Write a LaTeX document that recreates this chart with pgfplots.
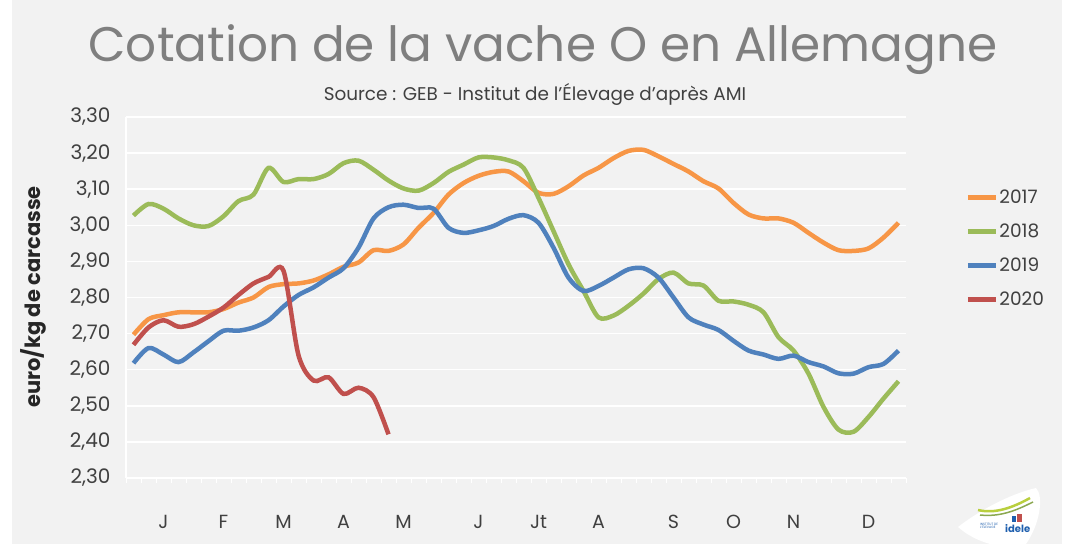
\documentclass[border=0pt]{standalone}
\usepackage{pgfplots}
\pgfplotsset{compat=1.18}
\usepackage{fontspec}
\setmainfont{Poppins}
\definecolor{c17}{HTML}{F79646}
\definecolor{c18}{HTML}{9BBB59}
\definecolor{c19}{HTML}{4F81BD}
\definecolor{c20}{HTML}{C0504D}
\definecolor{bg}{HTML}{F2F2F2}
\definecolor{txt}{HTML}{404040}
\definecolor{ttl}{HTML}{7F7F7F}
\definecolor{ideleblue}{HTML}{1F5FAE}

\begin{document}
\begin{tikzpicture}[x=1pt,y=1pt]
\useasboundingbox (0,0) rectangle (1072,544);
\fill[white] (0,0) rectangle (1072,544);
\fill[bg] (12,0) rectangle (1062,544);

% titles
\node[anchor=base, text=ttl, inner sep=0pt] at (543,482)
  {\fontsize{48.5}{52}\selectfont Cotation de la vache O en Allemagne};
\node[anchor=base, text=txt, inner sep=0pt] at (535,443)
  {\fontsize{18.4}{20}\selectfont Source : GEB - Institut de l'Élevage d'après AMI};
\node[rotate=90, text=black!85, inner sep=0pt] at (33,247)
  {\fontsize{21}{23}\selectfont\bfseries euro/kg de carcasse};

\begin{axis}[
    at={(126pt,66pt)}, anchor=south west,
    scale only axis, width=780pt, height=361pt,
    xmin=0.5, xmax=52.5, ymin=2.3, ymax=3.3,
    axis background/.style={fill=bg},
    separate axis lines,
    axis x line*=bottom, axis y line*=left,
    x axis line style={-, draw=white, line width=1.2pt},
    y axis line style={-, draw=white, line width=1.2pt},
    ymajorgrids, grid style={white, line width=1.5pt},
    ytick={2.3,2.4,2.5,2.6,2.7,2.8,2.9,3.0,3.1,3.2,3.3},
    xtick={3,7,11,15,19,24,28,32,37,41,45,50},
    xticklabels={J,F,M,A,M,J,Jt,A,S,O,N,D},
    minor xtick={0.5,1.5,...,52.5},
    tick align=outside,
    major tick length=0pt, minor tick length=5pt,
    minor tick style={white, line width=1pt},
    /pgf/number format/.cd, fixed, fixed zerofill, precision=2, use comma, assume math mode=true,
    /pgfplots/.cd,
    yticklabel style={font=\fontsize{20}{22}\selectfont, text=txt, xshift=-12pt},
    xticklabel style={font=\fontsize{19}{21}\selectfont, text=txt, anchor=center, yshift=-44pt},
    legend style={at={(1.072,0.808)}, anchor=north west, draw=none, fill=none,
        font=\fontsize{18.5}{20}\selectfont, text=txt, row sep=17pt,
        nodes={inner sep=1pt}},
    legend cell align=left,
    legend image code/.code={\draw[#1, line width=5pt] (0pt,0pt) -- (28pt,0pt);},
    every axis plot/.append style={line width=4.5pt, smooth, tension=0.5},
]
\addplot[c17] coordinates {
 (1,2.697) (2,2.740) (3,2.751) (4,2.759) (5,2.759) (6,2.759) (7,2.768) (8,2.786)
 (9,2.800) (10,2.829) (11,2.837) (12,2.839) (13,2.847) (14,2.864) (15,2.885) (16,2.897)
 (17,2.931) (18,2.929) (19,2.947) (20,2.993) (21,3.034) (22,3.085) (23,3.117) (24,3.137)
 (25,3.148) (26,3.149) (27,3.122) (28,3.090) (29,3.087) (30,3.108) (31,3.138) (32,3.159)
 (33,3.186) (34,3.206) (35,3.209) (36,3.191) (37,3.170) (38,3.149) (39,3.122) (40,3.102)
 (41,3.062) (42,3.030) (43,3.019) (44,3.019) (45,3.007) (46,2.979) (47,2.952) (48,2.931)
 (49,2.929) (50,2.936) (51,2.966) (52,3.007)
};
\addlegendentry{2017}
\addplot[c18] coordinates {
 (1,3.027) (2,3.059) (3,3.046) (4,3.019) (5,3.000) (6,2.998) (7,3.025) (8,3.067)
 (9,3.085) (10,3.159) (11,3.120) (12,3.128) (13,3.128) (14,3.142) (15,3.172) (16,3.179)
 (17,3.154) (18,3.124) (19,3.102) (20,3.096) (21,3.117) (22,3.148) (23,3.168) (24,3.188)
 (25,3.188) (26,3.180) (27,3.159) (28,3.076) (29,2.984) (30,2.892) (31,2.818) (32,2.745)
 (33,2.750) (34,2.777) (35,2.811) (36,2.851) (37,2.869) (38,2.839) (39,2.833) (40,2.791)
 (41,2.789) (42,2.780) (43,2.759) (44,2.690) (45,2.653) (46,2.589) (47,2.497) (48,2.434)
 (49,2.428) (50,2.469) (51,2.520) (52,2.568)
};
\addlegendentry{2018}
\addplot[c19] coordinates {
 (1,2.618) (2,2.660) (3,2.642) (4,2.621) (5,2.648) (6,2.679) (7,2.708) (8,2.708)
 (9,2.717) (10,2.737) (11,2.775) (12,2.807) (13,2.828) (14,2.855) (15,2.881) (16,2.938)
 (17,3.019) (18,3.050) (19,3.057) (20,3.048) (21,3.046) (22,2.993) (23,2.979) (24,2.986)
 (25,2.998) (26,3.018) (27,3.028) (28,3.007) (29,2.938) (30,2.855) (31,2.818) (32,2.832)
 (33,2.855) (34,2.878) (35,2.881) (36,2.855) (37,2.800) (38,2.745) (39,2.725) (40,2.710)
 (41,2.680) (42,2.653) (43,2.642) (44,2.630) (45,2.639) (46,2.621) (47,2.609) (48,2.590)
 (49,2.589) (50,2.607) (51,2.616) (52,2.653)
};
\addlegendentry{2019}
\addplot[c20] coordinates {
 (1,2.669) (2,2.717) (3,2.737) (4,2.719) (5,2.726) (6,2.747) (7,2.772) (8,2.807)
 (9,2.839) (10,2.857) (11,2.874) (12,2.640) (13,2.570) (14,2.579) (15,2.533) (16,2.550)
 (17,2.524) (18,2.421)
};
\addlegendentry{2020}
\end{axis}

% logo
\fill[white] (958,17) .. controls (980,34) and (1010,50) .. (1036,56)
  .. controls (1044,48) and (1040,20) .. (1026,0) -- (990,0)
  .. controls (976,4) and (966,10) .. cycle;
\draw[c18!70!yellow, line width=2.5pt] (978,34) .. controls (995,30) and (1012,36) .. (1030,46);
\draw[c18!90!black, line width=1.5pt] (980,29) .. controls (1000,27) and (1015,33) .. (1033,42);
\fill[c20] (1017,22) rectangle (1022,30);
\fill[ideleblue] (1012,22) rectangle (1016,28);
\node[text=ideleblue, inner sep=0pt, anchor=base west] at (1005,11) {\fontsize{10}{11}\selectfont\bfseries idele};
\node[text=ideleblue, inner sep=0pt, align=left, anchor=base west,
  font=\fontsize{3.2}{3.8}\selectfont] at (980,15) {INSTITUT DE\\L'ÉLEVAGE};
\end{tikzpicture}
\end{document}
